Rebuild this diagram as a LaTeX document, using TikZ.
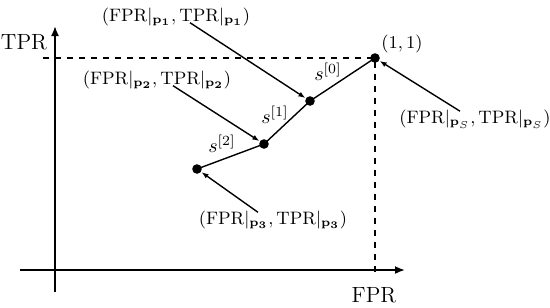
\documentclass[tikz,border=0pt]{standalone}
\usepackage{amsmath}
\usepackage{amssymb}
\usetikzlibrary{arrows.meta}

\begin{document}
\begin{tikzpicture}[
  x=0.5pt, y=-0.5pt, line width=0.7pt,
  dot/.style={circle,fill,inner sep=0pt,minimum size=4.8pt},
  lbl/.style={font=\small,inner sep=0pt},
  axlbl/.style={font=\fontsize{11}{13}\selectfont,inner sep=0pt},
  pointer/.style={-{Latex[length=3.5pt,width=2.6pt]}},
  axis/.style={line width=0.9pt,-{Latex[length=5pt,width=4pt]}}
]
  \useasboundingbox (0,0) rectangle (550,307);
  % axes
  \coordinate (xbeg) at (20,270);
  \coordinate (xend) at (405,270);
  \coordinate (ybeg) at (55,292);
  \coordinate (yend) at (55,26);
  \draw[axis] (xbeg) -- (xend);
  \draw[axis] (ybeg) -- (yend);
  \node[axlbl] (tpr) at (24,42) {TPR};
  \node[axlbl] (fpr) at (374,295) {FPR};
  % operating points
  \node[dot] (pS) at (375,58) {};
  \node[dot] (p1) at (310,101) {};
  \node[dot] (p2) at (264,144) {};
  \node[dot] (p3) at (197,169) {};
  \coordinate (hx) at (43,58);
  \coordinate (vy) at (375,277);
  \draw[dashed] (hx) -- (pS.center) -- (vy);
  \draw (pS.center) -- (p1.center) -- (p2.center) -- (p3.center);
  \node[lbl] (one) at (402,44) {$(1,1)$};
  \node (s0) at (328,72) {$s^{[0]}$};
  \node (s1) at (275,115) {$s^{[1]}$};
  \node (s2) at (222,144) {$s^{[2]}$};
  % annotations
  \node[lbl] (lab1) at (176,17) {$(\mathrm{FPR}|_{\mathbf{p_1}},\mathrm{TPR}|_{\mathbf{p_1}})$};
  \node[lbl] (lab2) at (157,80) {$(\mathrm{FPR}|_{\mathbf{p_2}},\mathrm{TPR}|_{\mathbf{p_2}})$};
  \node[lbl] (lab3) at (273,220) {$(\mathrm{FPR}|_{\mathbf{p_3}},\mathrm{TPR}|_{\mathbf{p_3}})$};
  \node[lbl] (labS) at (475,119) {$(\mathrm{FPR}|_{\mathbf{p}_S},\mathrm{TPR}|_{\mathbf{p}_S})$};
  \draw[pointer] ([xshift=7pt,yshift=2pt]lab1.south) -- (p1);
  \draw[pointer] ([xshift=8pt,yshift=2pt]lab2.south) -- (p2);
  \draw[pointer] ([xshift=-7.5pt,yshift=-1pt]lab3.north) -- (p3);
  \draw[pointer] ([xshift=-7.5pt,yshift=-1pt]labS.north) -- (pS);
\end{tikzpicture}
\end{document}
